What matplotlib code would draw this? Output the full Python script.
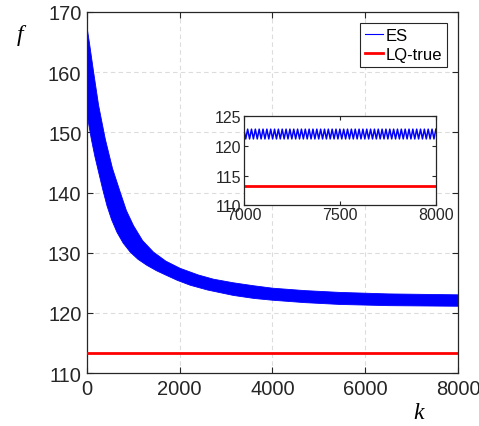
import matplotlib
matplotlib.use("Agg")
import matplotlib.pyplot as plt
from matplotlib.lines import Line2D
import numpy as np

plt.rcParams['font.family'] = ['Liberation Sans', 'DejaVu Sans']

# upper / lower edge of the ES band
k_up = [0, 50, 143, 250, 394, 550, 717, 850, 1003, 1200, 1434, 1700, 2009, 2400,
        2726, 3156, 3600, 4004, 4700, 5453, 6500, 8000]
f_up = [167.5, 165.0, 160.0, 154.5, 148.9, 144.0, 140.05, 137.0, 134.5, 132.0, 130.1,
        128.6, 127.4, 126.3, 125.6, 125.0, 124.5, 124.1, 123.7, 123.4, 123.15, 123.0]
k_lo = [0, 93, 170, 250, 340, 431, 530, 646, 780, 932, 1100, 1292, 1500, 1722, 1950,
        2224, 2600, 3156, 3600, 4004, 4700, 5453, 6500, 8000]
f_lo = [153.0, 148.9, 146.0, 143.4, 140.5, 137.8, 135.5, 133.4, 131.6, 130.1, 128.9,
        127.9, 127.0, 126.2, 125.4, 124.6, 123.8, 122.9, 122.4, 122.1, 121.7, 121.4,
        121.2, 121.1]

# LQ-true optimum
lq_true = 113.3

# inset: ES oscillation between these levels, half period 10 steps
inset_k0, inset_k1, half_period = 7000, 8000, 10
inset_hi, inset_lo = 122.85, 121.2

fig = plt.figure(figsize=(4.79, 4.27), dpi=100)
ax = fig.add_axes([0.1816, 0.124, 0.7745, 0.8456])

poly_k = np.concatenate([k_up, k_lo[::-1]])
poly_f = np.concatenate([f_up, f_lo[::-1]])
ax.fill(poly_k, poly_f, color='#0000ff', lw=0.6, zorder=2)
ax.plot([0, 8000], [lq_true, lq_true], color='#ff0000', lw=2, zorder=3)

ax.set_xlim(0, 8000)
ax.set_ylim(110, 170)
ax.set_xticks([0, 2000, 4000, 6000, 8000])
ax.set_yticks([110, 120, 130, 140, 150, 160, 170])
ax.grid(True, ls=(0, (4, 3)), color='#dcdcdc', lw=0.8, zorder=0)
ax.set_axisbelow(True)
ax.tick_params(direction='in', top=True, right=True, labelsize=14.5, colors='#262626',
               length=4, width=0.8, pad=4)
for s in ax.spines.values():
    s.set_color('#262626')
    s.set_linewidth(0.9)

fig.text(0.035, 0.905, 'f', family=['Liberation Serif'], style='italic', fontsize=17)
fig.text(0.862, 0.018, 'k', family=['Liberation Serif'], style='italic', fontsize=17)

handles = [Line2D([], [], color='#0000ff', lw=0.8), Line2D([], [], color='#ff0000', lw=2)]
leg = ax.legend(handles, ['ES', 'LQ-true'], loc='upper right',
                bbox_to_anchor=(447 / 479, 1 - 24 / 427), bbox_transform=fig.transFigure,
                fontsize=12, handlelength=1.1, handletextpad=0.15, borderpad=0.3,
                labelspacing=0.25, borderaxespad=0, fancybox=False, framealpha=1)
leg.get_frame().set_edgecolor('#262626')
leg.get_frame().set_linewidth(0.8)

# inset
ins = fig.add_axes([0.509, 0.517, 0.401, 0.208])
zk = np.arange(inset_k0, inset_k1 + 1, half_period)
zf = np.where((np.arange(len(zk)) % 2) == 0, inset_hi, inset_lo)
ins.plot(zk, zf, color='#0000ff', lw=1.1)
ins.plot([inset_k0, inset_k1], [lq_true, lq_true], color='#ff0000', lw=2)
ins.set_xlim(7000, 8000)
ins.set_ylim(110, 125)
ins.set_xticks([7000, 7500, 8000])
ins.set_yticks([110, 115, 120, 125])
ins.tick_params(direction='in', top=True, right=True, labelsize=11.5, colors='#262626',
                length=3, width=0.8, pad=2)
ins.tick_params(axis='x', pad=1)
for s in ins.spines.values():
    s.set_color('#262626')
    s.set_linewidth(0.9)

fig.savefig('out.png', dpi=100)
